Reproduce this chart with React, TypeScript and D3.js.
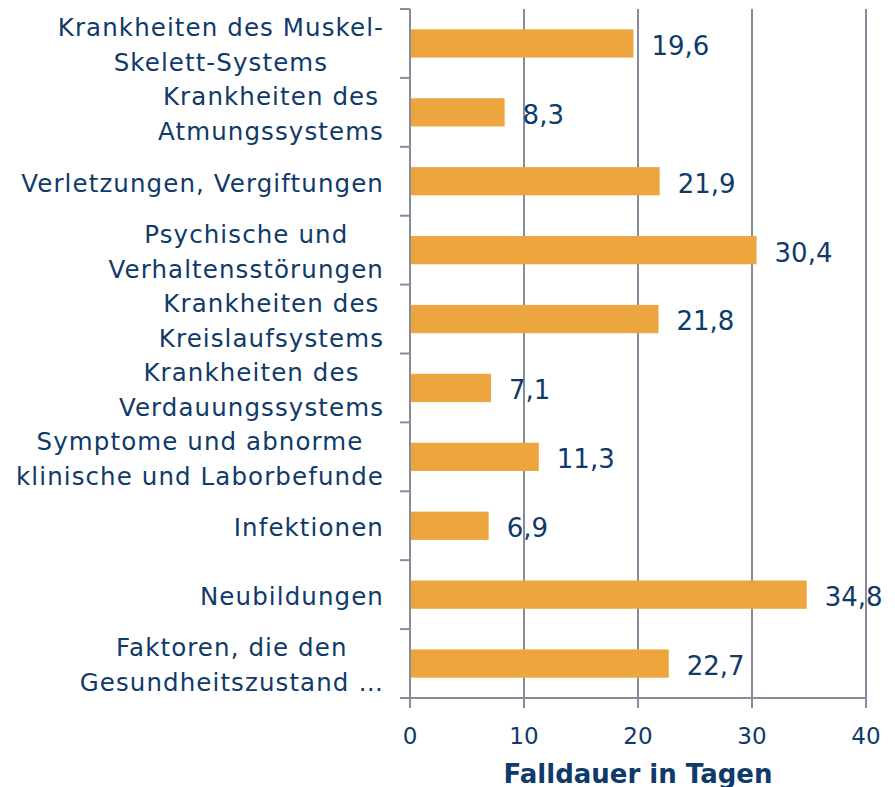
import React, { useRef, useEffect } from 'react';
import * as d3 from 'd3';

const categories: string[][] = [
  ['Krankheiten des Muskel-', 'Skelett-Systems'],
  ['Krankheiten des', 'Atmungssystems'],
  ['Verletzungen, Vergiftungen'],
  ['Psychische und', 'Verhaltensstörungen'],
  ['Krankheiten des', 'Kreislaufsystems'],
  ['Krankheiten des', 'Verdauungssystems'],
  ['Symptome und abnorme', 'klinische und Laborbefunde'],
  ['Infektionen'],
  ['Neubildungen'],
  ['Faktoren, die den', 'Gesundheitszustand …'],
];
const values = [19.6, 8.3, 21.9, 30.4, 21.8, 7.1, 11.3, 6.9, 34.8, 22.7];
const xTicks = [0, 10, 20, 30, 40];
const axisTitle = 'Falldauer in Tagen';

const App = () => {
  const ref = useRef<SVGSVGElement>(null);

  useEffect(() => {
    const svg = d3.select(ref.current);
    svg.selectAll('*').remove();

    const width = 895;
    const height = 787;
    const margin = { top: 9, right: 29, bottom: 89, left: 410 };
    const textColor = '#0F3A69';
    const axisColor = '#878B9C';
    const barColor = '#ECA63D';
    const font = 'Verdana, "DejaVu Sans", sans-serif';

    const idx = categories.map((_, i) => String(i));
    const y = d3.scaleBand().domain(idx).range([margin.top, height - margin.bottom]).paddingInner(0.59).paddingOuter(0.295);
    const yOuter = d3.scaleBand().domain(idx).range([margin.top, height - margin.bottom]);
    const x = d3.scaleLinear().domain([0, 40]).range([margin.left, width - margin.right]);

    // gridlines
    svg.append('g').selectAll('line').data(xTicks.filter(t => t > 0)).join('line')
      .attr('x1', d => x(d)).attr('x2', d => x(d))
      .attr('y1', margin.top).attr('y2', height - margin.bottom)
      .attr('stroke', axisColor).attr('stroke-width', 2);

    // bars
    svg.append('g').selectAll('rect').data(values).join('rect')
      .attr('x', x(0)).attr('y', (d, i) => y(String(i))!)
      .attr('width', d => x(d) - x(0)).attr('height', y.bandwidth())
      .attr('fill', barColor);

    // value labels
    svg.append('g').selectAll('text').data(values).join('text')
      .attr('x', d => x(d) + 18).attr('y', (d, i) => y(String(i))! + y.bandwidth() / 2 + 2)
      .attr('dy', '0.36em')
      .attr('font-family', font).attr('font-size', 26).attr('fill', textColor)
      .text(d => d.toFixed(1).replace('.', ','));

    // y axis
    const yAxis = svg.append('g');
    yAxis.append('line')
      .attr('x1', x(0)).attr('x2', x(0)).attr('y1', margin.top).attr('y2', height - margin.bottom)
      .attr('stroke', axisColor).attr('stroke-width', 2);
    const bounds = idx.map(k => yOuter(k)!).concat([height - margin.bottom]);
    yAxis.selectAll('line.tick').data(bounds).join('line').attr('class', 'tick')
      .attr('x1', x(0) - 10).attr('x2', x(0)).attr('y1', d => d).attr('y2', d => d)
      .attr('stroke', axisColor).attr('stroke-width', 2);

    // category labels: centered lines, block right-aligned
    const lineH = 35;
    const labelRight = 384;
    categories.forEach((lines, i) => {
      const cy = yOuter(String(i))! + yOuter.bandwidth() / 2 + 1.5;
      const g = svg.append('g');
      const texts = lines.map((l, j) =>
        g.append('text')
          .attr('y', cy + (j - (lines.length - 1) / 2) * lineH)
          .attr('dy', '0.36em')
          .attr('text-anchor', 'middle')
          .attr('font-family', font).attr('font-size', 24.5).attr('letter-spacing', 1.1)
          .attr('fill', textColor)
          .text(l)
      );
      const w = d3.max(texts, t => (t.node() as SVGTextElement).getComputedTextLength()) || 0;
      texts.forEach(t => t.attr('x', labelRight - w / 2));
    });

    // x axis
    const xAxis = svg.append('g');
    xAxis.append('line')
      .attr('x1', x(0)).attr('x2', x(40)).attr('y1', height - margin.bottom).attr('y2', height - margin.bottom)
      .attr('stroke', axisColor).attr('stroke-width', 2);
    xAxis.selectAll('line.tick').data(xTicks).join('line').attr('class', 'tick')
      .attr('x1', d => x(d)).attr('x2', d => x(d))
      .attr('y1', height - margin.bottom).attr('y2', height - margin.bottom + 10)
      .attr('stroke', axisColor).attr('stroke-width', 2);
    xAxis.selectAll('text').data(xTicks).join('text')
      .attr('x', d => x(d)).attr('y', 744)
      .attr('text-anchor', 'middle')
      .attr('font-family', font).attr('font-size', 23).attr('fill', textColor)
      .text(d => String(d));

    svg.append('text')
      .attr('x', (x(0) + x(40)) / 2).attr('y', 783)
      .attr('text-anchor', 'middle')
      .attr('font-family', font).attr('font-size', 26).attr('font-weight', 'bold').attr('fill', textColor)
      .text(axisTitle);
  }, []);

  return <svg ref={ref} width={895} height={787} style={{ position: 'absolute', left: 0, top: 0 }} />;
};

export default App;
